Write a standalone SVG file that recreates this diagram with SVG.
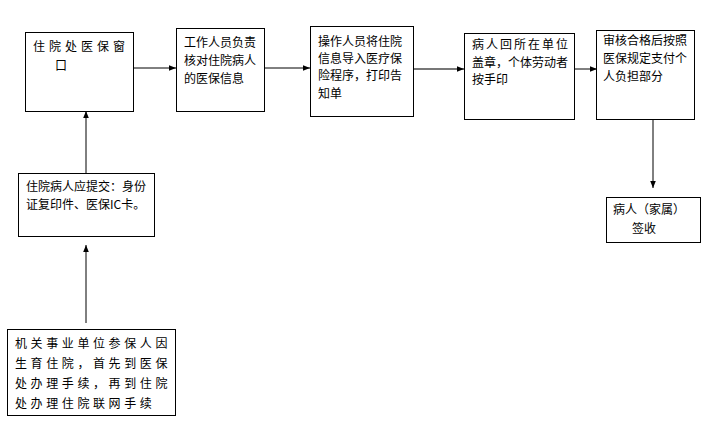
<svg xmlns="http://www.w3.org/2000/svg" width="710" height="422" viewBox="0 0 710 422">
<style>
.box{fill:#fff;stroke:#000;stroke-width:1}
.t{font-family:"Noto Sans CJK SC",sans-serif;font-size:12px;fill:#000}
.w{letter-spacing:4px}
.s{letter-spacing:3.6px}
.c{stroke:#000;stroke-width:1;fill:none}
.g{stroke:#777;stroke-width:2;fill:none}
</style>
<defs>
<marker id="a" viewBox="0 0 10 10" refX="10" refY="5" markerWidth="7" markerHeight="7" markerUnits="userSpaceOnUse" orient="auto">
<path d="M0,1 L10,5 L0,9 Z" fill="#000"/>
</marker>
</defs>
<rect width="710" height="422" fill="#fff"/>
<g id="connectors">
<line class="c" x1="133" y1="68" x2="176" y2="68" marker-end="url(#a)"/>
<line class="c" x1="264" y1="68" x2="310" y2="68" marker-end="url(#a)"/>
<line class="g" x1="414" y1="69" x2="464" y2="69" marker-end="url(#a)"/>
<line class="c" x1="574" y1="69" x2="597" y2="69" marker-end="url(#a)"/>
<line class="c" x1="653" y1="119" x2="653" y2="188" marker-end="url(#a)"/>
<line class="c" x1="86" y1="173" x2="86" y2="111" marker-end="url(#a)"/>
<line class="c" x1="86" y1="323" x2="86" y2="245" marker-end="url(#a)"/>
</g>
<g id="n1">
<rect class="box" x="25.5" y="32.5" width="108" height="79"/>
<text class="t w" x="33" y="51">住院处医保窗</text>
<text class="t" x="55" y="70">口</text>
</g>
<g id="n2">
<rect class="box" x="176.5" y="28.5" width="88" height="83"/>
<text class="t" x="184" y="47">工作人员负责</text>
<text class="t" x="184" y="65">核对住院病人</text>
<text class="t" x="184" y="83">的医保信息</text>
</g>
<g id="n3">
<rect class="box" x="310.5" y="26.5" width="103" height="90"/>
<text class="t" x="318" y="46">操作人员将住院</text>
<text class="t" x="318" y="63">信息导入医疗保</text>
<text class="t" x="318" y="80">险程序，打印告</text>
<text class="t" x="318" y="98">知单</text>
</g>
<g id="n4">
<rect class="box" x="464.5" y="33.5" width="110" height="86"/>
<text class="t" x="472" y="49" letter-spacing="2">病人回所在单位</text>
<text class="t" x="472" y="67">盖章，个体劳动者</text>
<text class="t" x="472" y="84">按手印</text>
</g>
<g id="n5">
<rect class="box" x="596.5" y="30.5" width="98" height="89"/>
<text class="t" x="603" y="45">审核合格后按照</text>
<text class="t" x="603" y="63">医保规定支付个</text>
<text class="t" x="603" y="81">人负担部分</text>
</g>
<g id="n6">
<rect class="box" x="606.5" y="197.5" width="94" height="45"/>
<text class="t" x="613" y="214">病人（家属）</text>
<text class="t" x="632" y="233">签收</text>
</g>
<g id="n7">
<rect class="box" x="18.5" y="173.5" width="136" height="63"/>
<text class="t" x="26" y="191">住院病人应提交：身份</text>
<text class="t" x="26" y="209">证复印件、医保IC卡。</text>
</g>
<g id="n8">
<rect class="box" x="7.5" y="329.5" width="168" height="86"/>
<text class="t s" x="15" y="348">机关事业单位参保人因</text>
<text class="t s" x="15" y="368">生育住院，首先到医保</text>
<text class="t s" x="15" y="388">处办理手续，再到住院</text>
<text class="t s" x="15" y="408">处办理住院联网手续</text>
</g>
</svg>
